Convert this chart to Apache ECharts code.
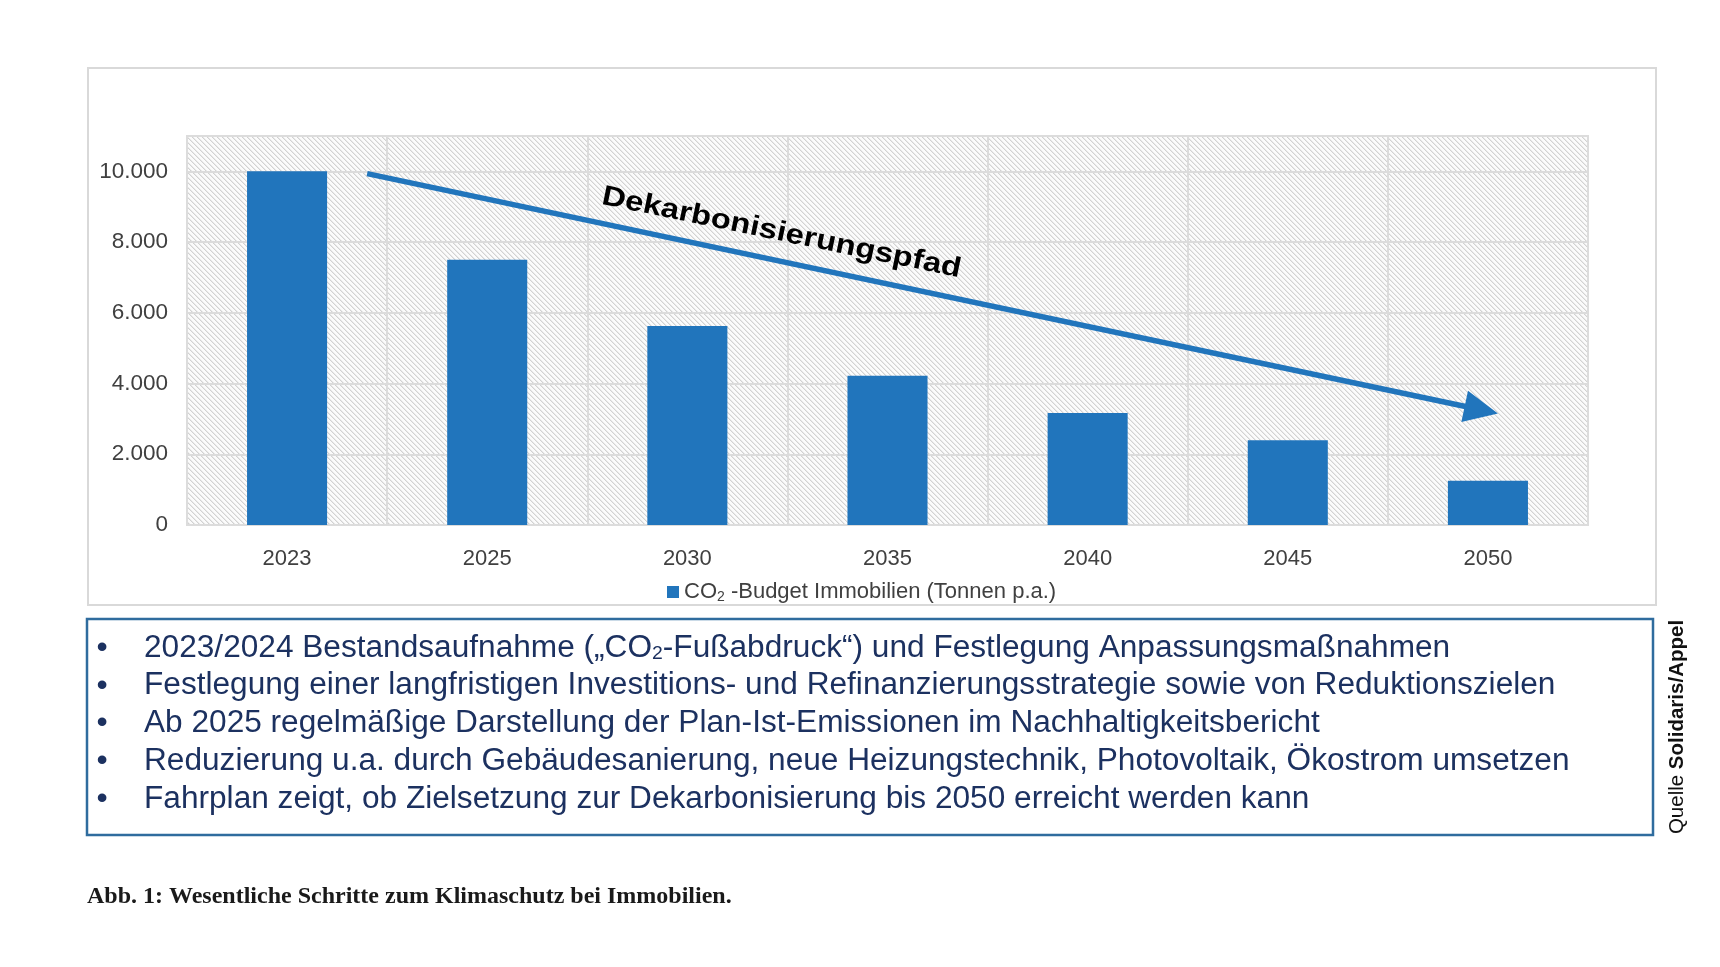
<!DOCTYPE html>
<html>
<head>
<meta charset="utf-8">
<script src="https://cdn.jsdelivr.net/npm/echarts@6/dist/echarts.min.js"></script>
<style>html,body{margin:0;padding:0;background:#fff;}#main{width:1720px;height:967px;}</style>
</head>
<body>
<div id="main"></div>
<script>
// ---- data ----
const categories = ['2023', '2025', '2030', '2035', '2040', '2045', '2050'];
const budget = [10000, 7500, 5625, 4220, 3170, 2400, 1250];
const seriesName = 'CO2-Budget Immobilien (Tonnen p.a.)';
const yMin = 0, yMax = 11000, yInterval = 2000;
// decarbonisation path annotation (category-index, value)
const pathFrom = [0.40, 9935];
const pathTo = [6.05, 3155];
const pathLabel = 'Dekarbonisierungspfad';
const pathLabelAt = [2.47, 8260];
const bulletLines = [
  '2023/2024 Bestandsaufnahme („CO{s|2}-Fußabdruck“) und Festlegung Anpassungsmaßnahmen',
  'Festlegung einer langfristigen Investitions- und Refinanzierungsstrategie sowie von Reduktionszielen',
  'Ab 2025 regelmäßige Darstellung der Plan-Ist-Emissionen im Nachhaltigkeitsbericht',
  'Reduzierung u.a. durch Gebäudesanierung, neue Heizungstechnik, Photovoltaik, Ökostrom umsetzen',
  'Fahrplan zeigt, ob Zielsetzung zur Dekarbonisierung bis 2050 erreicht werden kann'
];
const sourceNote = ['Quelle ', 'Solidaris/Appel'];
const caption = 'Abb. 1: Wesentliche Schritte zum Klimaschutz bei Immobilien.';

// ---- styles ----
const BLUE = '#2175bc';
const GRID = '#dcdcdc';
const AXIS_TXT = '#404040';
const NAVY = '#1c3160';

function hatch() {
  const c = document.createElement('canvas');
  c.width = 5; c.height = 5;
  const g = c.getContext('2d');
  g.fillStyle = '#fbfbfb'; g.fillRect(0, 0, 5, 5);
  for (let i = 0; i < 5; i++) {
    g.fillStyle = '#d2d2d2'; g.fillRect(i, i, 1, 1);
    g.fillStyle = '#e9e9e9'; g.fillRect((i + 1) % 5, i, 1, 1);
  }
  return c;
}
function fmt(v) { return String(v).replace(/\B(?=(\d{3})+(?!\d))/g, '.'); }

const chart = echarts.init(document.getElementById('main'));
chart.setOption({
  animation: false,
  textStyle: { fontFamily: 'Liberation Sans, Arial, sans-serif' },
  grid: {
    left: 187, right: 132, top: 136, bottom: 442,
    show: true,
    backgroundColor: { image: hatch(), repeat: 'repeat' },
    borderColor: GRID, borderWidth: 2
  },
  legend: {
    data: [seriesName],
    left: 662, top: 576,
    icon: 'rect', itemWidth: 12, itemHeight: 12, itemGap: 4,
    formatter: () => '{a|CO}{b|2}{a| -Budget Immobilien (Tonnen p.a.)}',
    textStyle: {
      color: AXIS_TXT,
      rich: {
        a: { fontSize: 22, color: AXIS_TXT, lineHeight: 24 },
        b: { fontSize: 14, color: AXIS_TXT, lineHeight: 16, verticalAlign: 'bottom' }
      }
    }
  },
  xAxis: [{
    type: 'category', data: categories,
    axisLine: { show: true, lineStyle: { color: GRID, width: 2 } },
    axisTick: { show: false },
    axisLabel: { color: AXIS_TXT, fontSize: 22, margin: 23 },
    splitLine: { show: true, interval: 0, lineStyle: { color: GRID, width: 2 } }
  }, {
    type: 'value', min: -0.5, max: categories.length - 0.5, show: false
  }],
  yAxis: {
    type: 'value', min: yMin, max: yMax, interval: yInterval,
    axisLine: { show: false }, axisTick: { show: false },
    axisLabel: { color: AXIS_TXT, fontSize: 22.5, margin: 19, formatter: fmt, showMaxLabel: false },
    splitLine: { lineStyle: { color: GRID, width: 2 } }
  },
  series: [{
    type: 'bar', name: seriesName, data: budget, barWidth: '40%',
    itemStyle: { color: BLUE }
  }]
});

// ---- annotations placed through the axes ----
function px(pt) {
  return [chart.convertToPixel({ xAxisIndex: 1 }, pt[0]), chart.convertToPixel({ yAxisIndex: 0 }, pt[1])];
}
const a0 = px(pathFrom), a1 = px(pathTo), lp = px(pathLabelAt);
const dx = a1[0] - a0[0], dy = a1[1] - a0[1], len = Math.hypot(dx, dy);
const ux = dx / len, uy = dy / len;
const headLen = 34, headHalf = 16;
const base = [a1[0] - ux * headLen, a1[1] - uy * headLen];
const headPts = [a1, [base[0] - uy * headHalf, base[1] + ux * headHalf], [base[0] + uy * headHalf, base[1] - ux * headHalf]];

const graphics = [
  { type: 'rect', z: -10, shape: { x: 88, y: 68, width: 1568, height: 537 }, style: { fill: 'none', stroke: '#d9d9d9', lineWidth: 2 } },
  { type: 'line', z: 100, shape: { x1: a0[0], y1: a0[1], x2: base[0] + ux * 2, y2: base[1] + uy * 2 }, style: { stroke: BLUE, lineWidth: 5.5 } },
  { type: 'polygon', z: 100, shape: { points: headPts }, style: { fill: BLUE } },
  { type: 'text', z: 100, x: lp[0], y: lp[1], rotation: -11.6 * Math.PI / 180, scaleX: 1.17,
    style: { text: pathLabel, font: 'bold 28px "Liberation Sans", Arial, sans-serif', fill: '#000', align: 'center', verticalAlign: 'middle' } },
  { type: 'rect', shape: { x: 87, y: 619, width: 1566, height: 216 }, style: { fill: 'none', stroke: '#2f6c9e', lineWidth: 2.5 } }
];
const lineTop = 648, lineStep = 37.8;
bulletLines.forEach((t, i) => {
  const y = lineTop + i * lineStep;
  graphics.push({ type: 'text', x: 102, y: y, style: { text: '•', font: '32px "Liberation Sans", Arial', fill: NAVY, align: 'center', verticalAlign: 'middle' } });
  graphics.push({ type: 'text', x: 144, y: y, scaleX: 1.02,
    style: { text: t, fontFamily: 'Liberation Sans, Arial', fontSize: 31, fill: NAVY, align: 'left', verticalAlign: 'middle',
      rich: { s: { fontSize: 19, fill: NAVY, lineHeight: 22, verticalAlign: 'bottom' } } } });
});
graphics.push({ type: 'text', x: 1677, y: 727, rotation: Math.PI / 2,
  style: { text: '{n|' + sourceNote[0] + '}{b|' + sourceNote[1] + '}', align: 'center', verticalAlign: 'middle',
    rich: { n: { fontFamily: 'Liberation Sans, Arial', fontSize: 20.5, fill: '#111' }, b: { fontFamily: 'Liberation Sans, Arial', fontWeight: 'bold', fontSize: 20.5, fill: '#111' } } } });
graphics.push({ type: 'text', x: 87, y: 897,
  style: { text: caption, font: 'bold 24px "Liberation Serif", "DejaVu Serif", serif', fill: '#1a1a1a', align: 'left', verticalAlign: 'middle' } });

chart.setOption({ graphic: graphics });
</script>
</body>
</html>
